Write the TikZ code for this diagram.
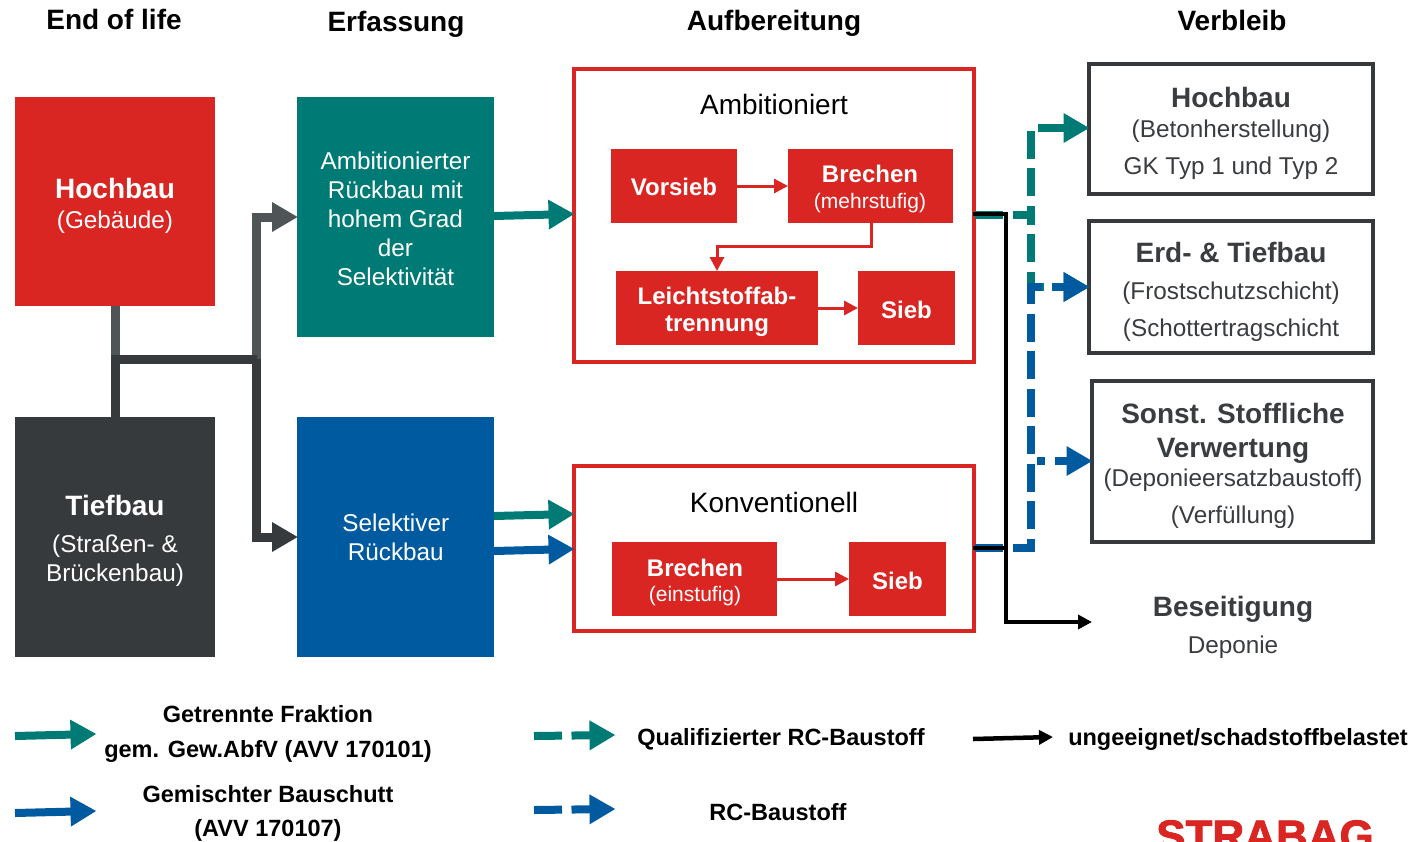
\documentclass[tikz,border=0pt]{standalone}
\usepackage{fontspec}
\setmainfont{Liberation Sans}
\newfontfamily\logofont{Liberation Sans}[BoldFeatures={FakeBold=2}]
\usetikzlibrary{arrows.meta}
\definecolor{cred}{HTML}{D92622}
\definecolor{cdark}{HTML}{363A3D}
\definecolor{cgrey}{HTML}{4F5456}
\definecolor{cteal}{HTML}{007A74}
\definecolor{cblue}{HTML}{005AA0}
\definecolor{ctext}{HTML}{3A3D40}
\newcommand{\rg}{\fontsize{24.3}{29}\selectfont\mdseries}
\newcommand{\sm}{\fontsize{21}{25}\selectfont\mdseries}
\newcommand{\bg}{\fontsize{28}{33}\selectfont\bfseries}
\newcommand{\bb}{\fontsize{24}{29}\selectfont\bfseries}
\newcommand{\bl}{\fontsize{23.5}{29}\selectfont\bfseries}
\tikzset{
  x=1pt,y=-1pt,
  box/.style={inner sep=0,outer sep=0,fill=#1},
  frame/.style={inner sep=0,outer sep=0,draw=#1,line width=4.5pt,fill=white},
  txt/.style={inner sep=0,outer sep=0,align=center,text=#1,font=\rg},
  thick arrow/.style={line width=8pt,color=#1,shorten >=-1.5pt,-{Triangle[length=26pt,width=28pt]}},
  dash arrow/.style={thick arrow=#1,dash pattern=on 28pt off 9.5pt},
  red arrow/.style={line width=3pt,color=cred,-{Triangle[length=14pt,width=14pt]}},
  black arrow/.style={line width=4.5pt,color=black,-{Triangle[length=14pt,width=14pt]}},
  trunk/.style={line width=9pt,color=#1,shorten >=-1pt,-{Triangle[length=26pt,width=28pt]}},
}
\begin{document}
\begin{tikzpicture}
\useasboundingbox (0,0) rectangle (1424,841);
\clip (0,0) rectangle (1424,841);
% titles
\node[txt=black] (t1) at (114,19) {\bg End of life};
\node[txt=black] (t2) at (396,24) {\bg Erfassung};
\node[txt=black] (t3) at (774,23) {\bg Aufbereitung};
\node[txt=black] (t4) at (1232,20) {\bg Verbleib};
% connector junctions
\coordinate (j1) at (115,359);
\coordinate (j2) at (256,359);
\coordinate (jt) at (1031,215);
\coordinate (jb) at (1031,548);
\coordinate (jk) at (1006,214);
% column 1
\node[box=cred,minimum width=200pt,minimum height=209pt] (hoch) at (115,201.5) {};
\node[txt=white] (hocht) at (115,206) {\bg Hochbau\\[1pt]\rg (Gebäude)};
\node[box=cdark,minimum width=200pt,minimum height=240pt] (tief) at (115,537) {};
\node[txt=white] (tieft) at (115,541) {\bg Tiefbau\\[8pt]\rg (Straßen- \&\\\rg Brückenbau)};
% column 2
\node[box=cteal,minimum width=197pt,minimum height=240pt] (amb) at (395.5,217) {};
\node[txt=white] (ambt) at (395.5,218.5) {Ambitionierter\\Rückbau mit\\hohem Grad\\der\\Selektivität};
\node[box=cblue,minimum width=197pt,minimum height=240pt] (sel) at (395.5,537) {};
\node[txt=white] (selt) at (395.8,537) {Selektiver\\Rückbau};
% column 3 frames
\node[frame=cred,minimum width=400pt,minimum height=293pt] (fa) at (774,215.5) {};
\node[txt=black] (fat) at (774,104) {\fontsize{28}{33}\selectfont Ambitioniert};
\node[box=cred,minimum width=126pt,minimum height=74pt] (vor) at (674,186) {};
\node[txt=white] (vort) at (674,187) {\bb Vorsieb};
\node[box=cred,minimum width=165pt,minimum height=74pt] (bre) at (870.5,186) {};
\node[txt=white] (bret) at (870,188.5) {\bb Brechen\\[-3pt]\sm (mehrstufig)};
\node[box=cred,minimum width=202pt,minimum height=74pt] (lei) at (717,308) {};
\node[txt=white] (leit) at (717,312) {\bb Leichtstoffab-\\[-2pt]\bb trennung};
\node[box=cred,minimum width=97pt,minimum height=74pt] (sie) at (906.5,308) {};
\node[txt=white] (siet) at (906.5,310) {\bb Sieb};
\node[frame=cred,minimum width=400pt,minimum height=165pt] (fk) at (774,548.5) {};
\node[txt=black] (fkt) at (774,502) {\fontsize{28}{33}\selectfont Konventionell};
\node[box=cred,minimum width=165pt,minimum height=74pt] (br2) at (694.5,579) {};
\node[txt=white] (br2t) at (695,582.5) {\bb Brechen\\[-4pt]\sm (einstufig)};
\node[box=cred,minimum width=97pt,minimum height=74pt] (si2) at (897.5,579) {};
\node[txt=white] (si2t) at (897.5,581) {\bb Sieb};
% column 4
\node[frame=cdark,minimum width=284pt,minimum height=130pt] (r1) at (1231,129) {};
\node[txt=ctext] (r1t) at (1231,133) {\bg Hochbau\\[1pt]\rg (Betonherstellung)\\[8pt]\rg GK Typ 1 und Typ 2};
\node[frame=cdark,minimum width=284pt,minimum height=132pt] (r2) at (1231,287) {};
\node[txt=ctext] (r2t) at (1231,292) {\bg Erd- \& Tiefbau\\[8pt]\rg (Frostschutzschicht)\\[8pt]\rg (Schottertragschicht};
\node[frame=cdark,minimum width=281pt,minimum height=161pt] (r3) at (1232.5,461.5) {};
\node[txt=ctext] (r3t) at (1233,466) {\bg Sonst. Stoffliche\\[5pt]\bg Verwertung\\[0pt]\rg (Deponieersatzbaustoff)\\[8pt]\rg (Verfüllung)};
\node[txt=ctext] (r4t) at (1233,627.5) {\bg Beseitigung\\[8pt]\rg Deponie};
\coordinate (r4) at (1092,622);
% connectors left
\draw[trunk=cgrey,-] (hoch.south) -- (j1);
\draw[trunk=cgrey] (j2) -- (256,217) -- (amb.west);
\draw[trunk=cdark,-] (tief.north) -- (j1) -- (j2);
\draw[trunk=cdark] (j2) -- (256,537) -- (sel.west);
% thick solid arrows
\coordinate (a1s) at (494,216); \coordinate (a1e) at (573,214);
\draw[thick arrow=cteal] (a1s) -- (a1e);
\coordinate (a2s) at (494,516); \coordinate (a2e) at (573,514);
\draw[thick arrow=cteal] (a2s) -- (a2e);
\coordinate (a3s) at (494,551); \coordinate (a3e) at (573,549);
\draw[thick arrow=cblue] (a3s) -- (a3e);
% inner arrows
\draw[red arrow] (vor.east) -- (bre.west);
\coordinate (b1) at (871,223); \coordinate (b2) at (871,246); \coordinate (b3) at (717,246);
\draw[red arrow] (b1) -- (b2) -- (b3) -- (lei.north);
\draw[red arrow] (lei.east) -- (sie.west);
\draw[red arrow] (br2.east) -- (si2.west);
% dashed arrows
\coordinate (ts) at (975,215); \coordinate (bs) at (975,548); \coordinate (jb2) at (1031,461);
\draw[dash arrow=cteal] (ts) -- (jt) -- (1031,128) -- (1088,128);
\draw[dash arrow=cteal] (ts) -- (jt) -- (1031,287) -- (1088,287);
\draw[dash arrow=cblue] (bs) -- (jb) -- (1031,287) -- (1088,287);
\draw[dash arrow=cblue,dash pattern=on 0pt off 6pt on 8pt off 10pt on 40pt] (jb2) -- (1091,461);
% black
\coordinate (ks) at (973,214); \coordinate (ks2) at (973,548); \coordinate (jk2) at (1006,548);
\draw[black arrow,-] (ks2) -- (jk2);
\draw[black arrow] (ks) -- (jk) -- (1006,622) -- (r4);
% legend
\coordinate (l1s) at (15,736); \coordinate (l1e) at (95,734);
\draw[thick arrow=cteal] (l1s) -- (l1e);
\node[txt=black] (l1t) at (268,734) {\bl Getrennte Fraktion\\[6pt]\bl gem. Gew.AbfV (AVV 170101)};
\coordinate (l2s) at (15,813); \coordinate (l2e) at (95,811);
\draw[thick arrow=cblue] (l2s) -- (l2e);
\node[txt=black] (l2t) at (268,813) {\bl Gemischter Bauschutt\\[5pt]\bl (AVV 170107)};
\coordinate (l3s) at (534,736); \coordinate (l3e) at (614,735);
\draw[dash arrow=cteal] (l3s) -- (l3e);
\node[txt=black] (l3t) at (781,739) {\bl Qualifizierter RC-Baustoff};
\coordinate (l4s) at (534,810); \coordinate (l4e) at (614,809);
\draw[dash arrow=cblue] (l4s) -- (l4e);
\node[txt=black] (l4t) at (778,812) {\bl RC-Baustoff};
\coordinate (l5s) at (973,739); \coordinate (l5e) at (1053,737);
\draw[black arrow] (l5s) -- (l5e);
\node[txt=black] (l5t) at (1238,739) {\bl ungeeignet/schadstoffbelastet};
\node[txt=cred,anchor=base] (logo) at (1265,851) {\fontsize{44}{50}\logofont\bfseries STRABAG};
\end{tikzpicture}
\end{document}
